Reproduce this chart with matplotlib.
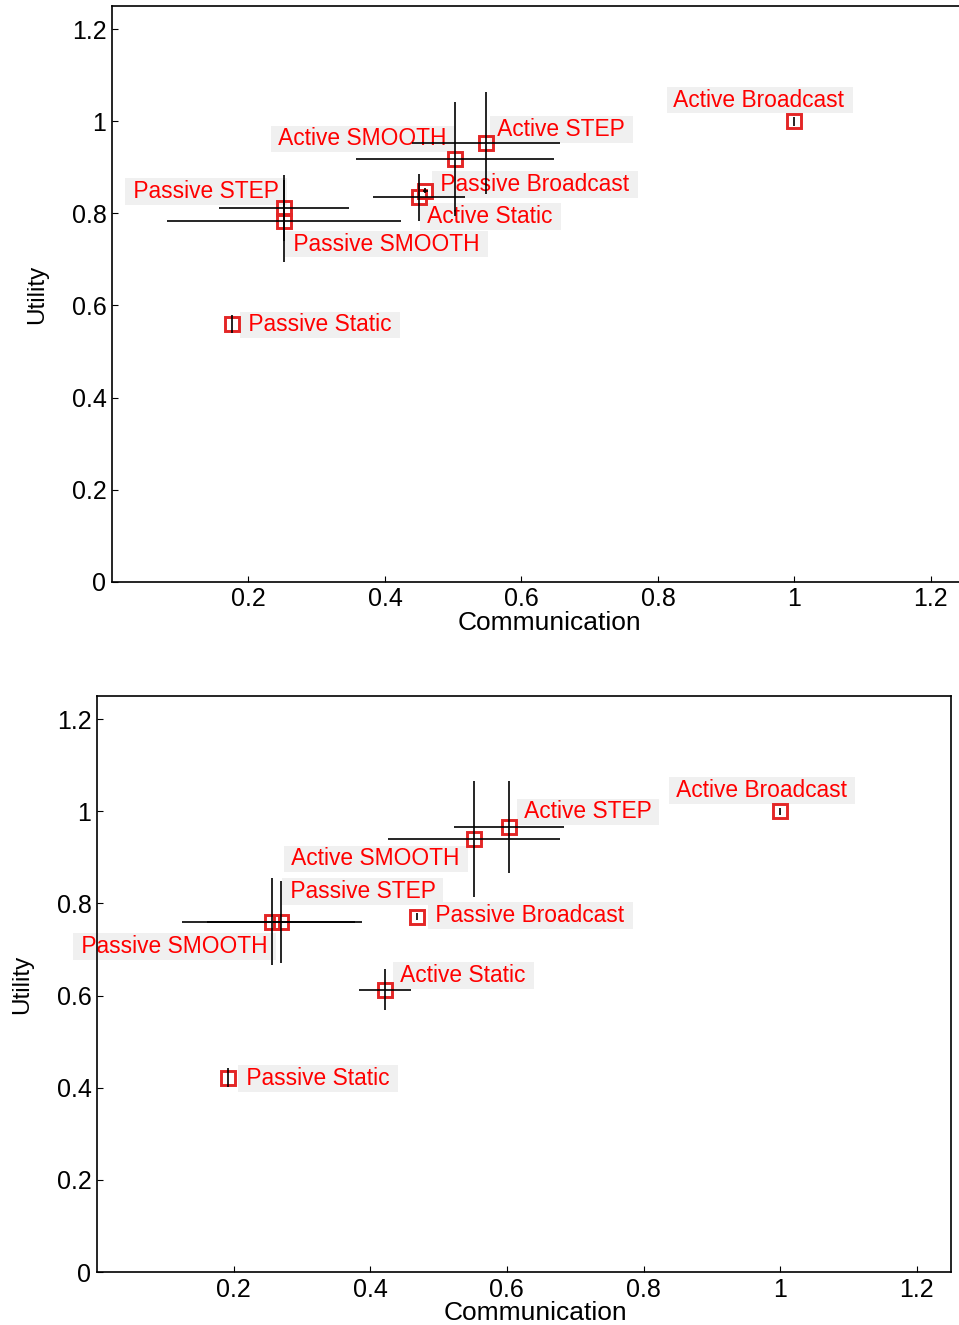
import matplotlib
matplotlib.use("Agg")
import matplotlib.pyplot as plt
import numpy as np

plt.rcParams["font.family"] = ["Liberation Sans", "DejaVu Sans"]

# strategies, same order in both panels
names = ["Active Broadcast", "Active STEP", "Active SMOOTH", "Passive Broadcast",
         "Active Static", "Passive STEP", "Passive SMOOTH", "Passive Static"]

# panel 1: mean communication / utility with std
comm_1 = [1.0, 0.548, 0.502, 0.459, 0.450, 0.252, 0.252, 0.176]
util_1 = [1.0, 0.953, 0.918, 0.849, 0.835, 0.812, 0.783, 0.560]
comm_err_1 = [0.0, 0.109, 0.145, 0.004, 0.067, 0.095, 0.171, 0.0]
util_err_1 = [0.01, 0.11, 0.124, 0.005, 0.051, 0.072, 0.089, 0.02]

# panel 2
comm_2 = [1.0, 0.603, 0.552, 0.469, 0.422, 0.269, 0.256, 0.192]
util_2 = [1.0, 0.966, 0.940, 0.771, 0.613, 0.760, 0.760, 0.422]
comm_err_2 = [0.0, 0.08, 0.126, 0.0, 0.038, 0.108, 0.132, 0.0]
util_err_2 = [0.008, 0.10, 0.126, 0.008, 0.044, 0.089, 0.094, 0.02]

xticks = [0.2, 0.4, 0.6, 0.8, 1.0, 1.2]
yticks = [0, 0.2, 0.4, 0.6, 0.8, 1.0, 1.2]

# label placement: (dx, dy) in pixels from the point, horizontal alignment
offsets_1 = [(-126, 21, "left"), (6, 13, "left"), (-2, 20, "right"), (9, 6, "left"),
             (3, -19, "left"), (1, 16, "right"), (3, -23, "left"), (10, -1, "left")]
offsets_2 = [(-109, 21, "left"), (10, 15, "left"), (-8, -20, "right"), (12, 1, "left"),
             (10, 14, "left"), (3, 30, "left"), (2, -25, "right"), (12, -1, "left")]

def fmt(v):
    return "%g" % v

def draw_panel(ax, xs, ys, xe, ye, offsets):
    ax.plot(xs, ys, linestyle="none", marker="s", markersize=10,
            markerfacecolor="none", markeredgecolor="#e32626",
            markeredgewidth=2.1, zorder=2)
    ax.errorbar(xs, ys, xerr=xe, yerr=ye, fmt="none", ecolor="black",
                elinewidth=1.2, capsize=0, zorder=3)
    for name, x, y, (dx, dy, ha) in zip(names, xs, ys, offsets):
        ax.annotate(" " + name + " ", xy=(x, y), xytext=(dx, dy),
                    textcoords="offset pixels", ha=ha, va="center",
                    color="red", fontsize=16.4, zorder=1,
                    bbox=dict(boxstyle="square,pad=0.08", fc="#f0f0f0", ec="none"))

    ax.set_xlim(0, 1.25)
    ax.set_ylim(0, 1.25)
    ax.set_xticks(xticks)
    ax.set_yticks(yticks)
    ax.set_xticklabels([fmt(v) for v in xticks])
    ax.set_yticklabels([fmt(v) for v in yticks])
    ax.tick_params(direction="in", length=4, width=0.8, labelsize=18, pad=4)
    for sp in ax.spines.values():
        sp.set_linewidth(1.2)
    ax.set_xlabel("Communication", fontsize=19)
    ax.set_ylabel("Utility", fontsize=17.5)
    ax.xaxis.set_label_coords(0.513, -0.05)
    ax.yaxis.set_label_coords(-0.075, 0.5)

fig = plt.figure(figsize=(9.59, 13.25), dpi=100)
ax1 = fig.add_axes([0.1168, 0.5608, 0.8895, 0.4347])
ax2 = fig.add_axes([0.1011, 0.04, 0.8905, 0.4347])

draw_panel(ax1, comm_1, util_1, comm_err_1, util_err_1, offsets_1)
draw_panel(ax2, comm_2, util_2, comm_err_2, util_err_2, offsets_2)

fig.savefig("out.png", dpi=100)
